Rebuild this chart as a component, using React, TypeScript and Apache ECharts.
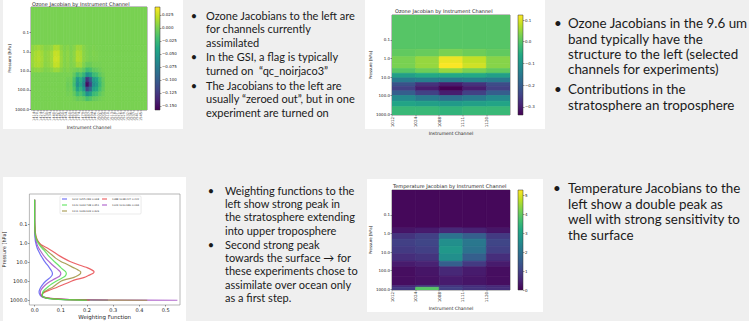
import React, { useEffect, useRef } from "react";
import * as echarts from "echarts";

const VIRIDIS = ["#440154", "#482475", "#414487", "#355f8d", "#2a788e", "#21918c", "#22a884", "#44bf70", "#7ad151", "#bddf26", "#fde725"];

// ---------- Panel 1: ozone Jacobian, assimilated channels ----------
const o3AssimChannels = ["1409", "1414", "1420", "1424", "1427", "1430", "1434", "1440", "1442", "1445", "1450", "1454", "1460", "1463", "1469", "1474", "1479", "1483", "1487", "1494", "1496", "1502", "1505", "1509", "1510", "1513", "1518", "1521", "1526", "1529", "1532", "1536", "1537", "1541", "1545", "1548"];
const o3AssimEdgesHPa = [0.0045, 0.45, 0.9, 1.8, 3.5, 7, 12.5, 22, 40, 70, 125, 225, 400, 1122];
// Jacobian values in units of 1e-3
const o3AssimMilli = [
  [0, 0, 0, 0, 0, 0, 0, 0, 0, 0, 0, 0, 0, 0, 0, 0, 0, 0, 0, 0, 0, 0, 0, 0, 0, 0, 0, 0, 0, 0, 0, 0, 0, 0, 0, 0],
  [6, 9, 11, 8, 4, 5, 7, 15, 15, 6, 2, 4, 1, 4, 11, 10, 4, 1, 0, 1, 0, 0, 0, 0, 0, 0, 0, 0, 0, 0, 0, 0, 0, 0, 0, 0],
  [9, 14, 16, 12, 6, 8, 12, 23, 22, 9, 3, 6, 2, 6, 16, 14, 5, 2, 0, 2, 1, 0, 0, 0, 0, 0, 0, 0, 0, 0, 0, 0, 0, 0, 0, 0],
  [10, 15, 17, 13, 6, 8, 12, 25, 24, 10, 3, 6, 2, 6, 17, 15, 5, 2, 0, 1, 1, 0, 0, 0, 0, 0, 0, 0, 0, 0, 0, 0, 0, 0, 0, 0],
  [9, 14, 15, 12, 5, 7, 11, 22, 21, 9, 3, 5, 2, 4, 12, 11, 2, -5, -5, -1, -1, -1, 0, 0, 0, 0, 0, 0, 0, 0, 0, 0, 0, 0, 0, 0],
  [4, 6, 7, 5, 2, 3, 5, 10, 10, 4, 1, 3, 1, -1, -4, -2, -9, -22, -18, -9, -7, -4, -1, 0, 0, 0, 0, 0, 0, 0, 0, 0, 0, 0, 0, 0],
  [0, 0, 0, 0, 0, 0, 0, 0, 0, 0, 0, 0, 0, -8, -24, -16, -28, -60, -48, -24, -20, -10, -4, 0, 0, 0, 0, 0, 0, 0, 0, 0, 0, 0, 0, 0],
  [0, 0, 0, 0, 0, 0, 0, 0, 0, 0, 0, -3, -2, -17, -51, -34, -60, -128, -102, -51, -43, -21, -8, 0, 0, 0, 0, 0, 0, 0, 0, 0, 0, 0, 0, 0],
  [0, 0, 0, 0, 0, 0, 0, 0, 0, 0, 0, -5, -3, -20, -60, -40, -70, -150, -120, -60, -50, -25, -10, 0, 0, 0, 0, 0, 0, 0, 0, 0, 0, 0, 0, 0],
  [0, 0, 0, 0, 0, 0, 0, 0, 0, 0, 0, -4, -2, -15, -45, -30, -52, -112, -90, -45, -38, -19, -8, 0, 0, 0, 0, 0, 0, 0, 0, 0, 0, 0, 0, 0],
  [0, 0, 0, 0, 0, 0, 0, 0, 0, 0, 0, -2, -1, -8, -24, -16, -28, -60, -48, -24, -20, -10, -4, 0, 0, 0, 0, 0, 0, 0, 0, 0, 0, 0, 0, 0],
  [0, 0, 0, 0, 0, 0, 0, 0, 0, 0, 0, 0, 0, -2, -7, -5, -8, -18, -14, -7, -6, -3, -1, 0, 0, 0, 0, 0, 0, 0, 0, 0, 0, 0, 0, 0],
  [0, 0, 0, 0, 0, 0, 0, 0, 0, 0, 0, 0, 0, 0, 0, 0, 0, 0, 0, 0, 0, 0, 0, 0, 0, 0, 0, 0, 0, 0, 0, 0, 0, 0, 0, 0],
];
const o3AssimTicks = [-0.15, -0.125, -0.1, -0.075, -0.05, -0.025, 0, 0.025];
const o3AssimRange = [-0.158, 0.04];

// ---------- Panel 2: ozone Jacobian, experiment channels ----------
const expChannels = ["1012", "1024", "1088", "1111", "1120"];
const o3ExpEdgesHPa = [0.0045, 0.32, 0.8, 1.8, 3.5, 6.3, 11.2, 20, 32, 56, 100, 200, 400, 1122];
const o3ExpJacobian = [
  [0, 0, 0, 0, 0],
  [0.01, 0.015, 0.03, 0.02, 0.01],
  [0.03, 0.05, 0.11, 0.08, 0.04],
  [0.03, 0.05, 0.12, 0.09, 0.04],
  [0.0, 0.02, 0.05, 0.03, 0.01],
  [-0.08, -0.06, -0.06, -0.06, -0.08],
  [-0.15, -0.14, -0.15, -0.14, -0.15],
  [-0.22, -0.27, -0.3, -0.27, -0.23],
  [-0.25, -0.3, -0.337, -0.3, -0.25],
  [-0.2, -0.25, -0.3, -0.25, -0.2],
  [-0.12, -0.15, -0.17, -0.15, -0.12],
  [-0.07, -0.08, -0.09, -0.08, -0.07],
  [-0.03, -0.03, -0.04, -0.03, -0.03],
];
const o3ExpTicks = [-0.3, -0.2, -0.1, 0, 0.1];
const o3ExpRange = [-0.337, 0.123];

// ---------- Panel 3: temperature Jacobian ----------
const tEdgesHPa = [0.0045, 0.5, 1, 2, 5, 12.6, 31.6, 63, 200, 631, 794, 1122];
const tJacobian = [
  [0.1, 0.1, 0.1, 0.1, 0.1],
  [0.3, 0.4, 0.6, 0.5, 0.3],
  [0.8, 1.0, 2.0, 1.6, 0.9],
  [1.0, 1.1, 2.6, 2.1, 1.1],
  [0.9, 1.0, 2.8, 2.0, 1.0],
  [0.7, 0.8, 2.6, 1.6, 0.7],
  [0.4, 0.5, 1.6, 0.9, 0.4],
  [0.2, 0.3, 0.6, 0.4, 0.2],
  [0.2, 0.25, 0.4, 0.3, 0.2],
  [0.6, 0.8, 0.8, 0.7, 0.6],
  [0.9, 3.9, 1.0, 0.8, 0.7],
];
const tTicks = [0, 1, 2, 3, 4, 5];
const tRange = [0, 5.3];

// ---------- Weighting functions ----------
const wfPressureHPa = [0.005, 0.05, 0.2, 0.4, 0.6, 0.8, 1.2, 1.8, 2.7, 4, 6, 9, 13, 19, 25, 31, 39, 50, 62, 80, 100, 140, 200, 280, 350, 450, 560, 680, 800, 900, 960, 1000];
const wfNames = ["1012 1055.283 0.068", "1024 1010.680 0.094", "1088 1038.227 0.222", "1111 1039.633 0.409", "1120 1043.738 0.451"];
const wf1012 = [0, 0, 0, 0.001, 0.002, 0.003, 0.006, 0.01, 0.016, 0.022, 0.03, 0.038, 0.047, 0.056, 0.062, 0.066, 0.068, 0.066, 0.06, 0.05, 0.042, 0.032, 0.024, 0.019, 0.017, 0.018, 0.022, 0.03, 0.05, 0.1, 0.18, 0.28];
const wf1024 = [0, 0, 0.001, 0.002, 0.004, 0.006, 0.01, 0.016, 0.024, 0.032, 0.042, 0.054, 0.066, 0.08, 0.09, 0.097, 0.1, 0.097, 0.088, 0.072, 0.06, 0.045, 0.033, 0.025, 0.022, 0.022, 0.026, 0.035, 0.06, 0.13, 0.28, 0.545];
const wf1088 = [0, 0, 0.002, 0.005, 0.009, 0.014, 0.025, 0.05, 0.07, 0.088, 0.11, 0.135, 0.165, 0.2, 0.218, 0.227, 0.222, 0.205, 0.19, 0.16, 0.14, 0.115, 0.088, 0.06, 0.042, 0.03, 0.028, 0.035, 0.06, 0.11, 0.17, 0.21];
const wf1111 = [0, 0, 0.001, 0.004, 0.008, 0.013, 0.022, 0.035, 0.05, 0.065, 0.08, 0.1, 0.125, 0.148, 0.165, 0.176, 0.175, 0.165, 0.15, 0.12, 0.1, 0.085, 0.07, 0.05, 0.038, 0.03, 0.028, 0.033, 0.05, 0.1, 0.2, 0.43];
const wf1120 = [0, 0, 0.001, 0.003, 0.006, 0.01, 0.018, 0.028, 0.04, 0.05, 0.062, 0.075, 0.088, 0.1, 0.11, 0.118, 0.121, 0.118, 0.11, 0.095, 0.082, 0.065, 0.05, 0.038, 0.032, 0.03, 0.03, 0.035, 0.05, 0.09, 0.15, 0.2];
const wfColors = ["#5a5af2", "#a24cc4", "#e8484c", "#9c8f3c", "#4fe04f"];
const wfTicks = [0, 0.1, 0.2, 0.3, 0.4, 0.5];
const pressureTicksHPa = [0.1, 1, 10, 100, 1000];

// ---------- slide notes ----------
const notesTopLeft = [
  { t: "Ozone Jacobians to the left are", b: true, y: 15 },
  { t: "for channels currently", y: 28.5 },
  { t: "assimilated", y: 42.5 },
  { t: "In the GSI, a flag is typically", b: true, y: 56 },
  { t: "turned on  \u201cqc_noirjaco3\u201d", y: 70 },
  { t: "The Jacobians to the left are", b: true, y: 85 },
  { t: "usually \u201czeroed out\u201d, but in one", y: 98.5 },
  { t: "experiment are turned on", y: 112.5 },
];
const notesTopRight = [
  { t: "Ozone Jacobians in the 9.6 um", b: true, y: 23 },
  { t: "band typically have the", y: 39 },
  { t: "structure to the left (selected", y: 54 },
  { t: "channels for experiments)", y: 68.5 },
  { t: "Contributions in the", b: true, y: 89 },
  { t: "stratosphere an troposphere", y: 105 },
];
const notesBottomLeft = [
  { t: "Weighting functions to the", b: true, y: 190 },
  { t: "left show strong peak in", y: 203.3 },
  { t: "the stratosphere extending", y: 216.7 },
  { t: "into upper troposphere", y: 230 },
  { t: "Second strong peak", b: true, y: 244 },
  { t: "towards the surface \u2192 for", y: 257.3 },
  { t: "these experiments chose to", y: 270.7 },
  { t: "assimilate over ocean only", y: 284 },
  { t: "as a first step.", y: 297.3 },
];
const notesBottomRight = [
  { t: "Temperature Jacobians to the", b: true, y: 188 },
  { t: "left show a double peak as", y: 204 },
  { t: "well with strong sensitivity to", y: 219 },
  { t: "the surface", y: 235 },
];

const SLIDE_FONT = "Lato, 'Liberation Sans', sans-serif";
const PLOT_FONT = "'DejaVu Sans', sans-serif";
const INK = "#222";
const lg = (p: number) => Math.log10(p);

function cells(edges: number[], rows: number[][], scale = 1) {
  const out: number[][] = [];
  rows.forEach((row, r) => row.forEach((v, c) => out.push([c, c + 1, lg(edges[r]), lg(edges[r + 1]), v * scale])));
  return out;
}

const renderCell = (_p: any, api: any) => {
  const a = api.coord([api.value(0), api.value(2)]);
  const b = api.coord([api.value(1), api.value(3)]);
  const c = api.visual("color");
  return {
    type: "rect",
    shape: {
      x: Math.min(a[0], b[0]),
      y: Math.min(a[1], b[1]),
      width: Math.abs(b[0] - a[0]),
      height: Math.abs(b[1] - a[1]),
    },
    style: { fill: c, stroke: c, lineWidth: 0.7 },
  };
};

const minus = (s: string) => s.replace("-", "\u2212");

function pressureAxis(gridIndex: number, minHPa: number, maxHPa: number, fontSize: number, nameGap: number) {
  const ticks = pressureTicksHPa.map(lg);
  return {
    gridIndex,
    type: "value",
    min: lg(minHPa),
    max: lg(maxHPa),
    inverse: true,
    name: "Pressure [hPa]",
    nameLocation: "middle",
    nameGap,
    nameTextStyle: { fontSize: fontSize, color: INK, fontFamily: PLOT_FONT },
    axisLine: { show: false, onZero: false },
    axisTick: { show: true, length: 1.5, lineStyle: { color: "#333", width: 0.5 }, customValues: ticks },
    axisLabel: { fontSize, color: INK, margin: 2, fontFamily: PLOT_FONT, customValues: ticks, formatter: (v: number) => Math.pow(10, v).toFixed(1) },
    splitLine: { show: false },
  };
}

function channelAxis(gridIndex: number, names: string[], fontSize: number, nameGap: number, labelColor: string) {
  const idx = names.map((_n, i) => i);
  return {
    gridIndex,
    type: "value",
    position: "bottom",
    min: 0,
    max: names.length,
    name: "Instrument Channel",
    nameLocation: "middle",
    nameGap,
    nameTextStyle: { fontSize: 4.5, color: INK, fontFamily: PLOT_FONT },
    axisLine: { show: false, onZero: false },
    axisTick: { show: true, length: 1.5, lineStyle: { color: "#333", width: 0.4 }, customValues: idx },
    axisLabel: { fontSize, rotate: 90, color: labelColor, margin: 2, fontFamily: PLOT_FONT, customValues: idx, formatter: (v: number) => names[Math.round(v)] ?? "" },
    splitLine: { show: false },
  };
}

function colorbarAxes(gridIndex: number, range: number[], ticks: number[], fmt: (v: number) => string) {
  return {
    x: { gridIndex, type: "value", show: false, min: 0, max: 1 },
    y: {
      gridIndex,
      type: "value",
      position: "right",
      min: range[0],
      max: range[1],
      axisLine: { show: false, onZero: false },
      axisTick: { show: true, length: 1.5, lineStyle: { color: "#333", width: 0.5 }, customValues: ticks },
      axisLabel: { fontSize: 4, color: INK, margin: 2, fontFamily: PLOT_FONT, customValues: ticks, formatter: fmt },
      splitLine: { show: false },
    },
  };
}

const cbGradient = {
  type: "linear",
  x: 0,
  y: 0,
  x2: 0,
  y2: 1,
  colorStops: VIRIDIS.slice().reverse().map((c, i, a) => ({ offset: i / (a.length - 1), color: c })),
};

function notes(lines: { t: string; b?: boolean; y: number }[], bulletX: number, textX: number, fontSize: number) {
  const els: any[] = [];
  lines.forEach((l) => {
    if (l.b) {
      els.push({ type: "text", x: bulletX, y: l.y, z: 5, style: { text: "\u2022", fontSize, fontFamily: SLIDE_FONT, fill: "#1a1a1a", align: "center", verticalAlign: "middle" } });
    }
    els.push({ type: "text", x: textX, y: l.y, z: 5, style: { text: l.t, fontSize, fontFamily: SLIDE_FONT, fill: "#1a1a1a", align: "left", verticalAlign: "middle" } });
  });
  return els;
}

function panel(x: number, y: number, w: number, h: number) {
  return { type: "rect", z: -10, silent: true, shape: { x, y, width: w, height: h }, style: { fill: "#ffffff" } };
}

function title(text: string, x: number, y: number) {
  return { type: "text", x, y, z: 5, style: { text, fontSize: 5, fontFamily: PLOT_FONT, fill: INK, align: "left", verticalAlign: "middle" } };
}

export default function App() {
  const ref = useRef<HTMLDivElement>(null);
  useEffect(() => {
    const chart = echarts.init(ref.current!, null, { renderer: "svg" });
    const cb1 = colorbarAxes(1, o3AssimRange, o3AssimTicks, (v) => minus(Number(v).toFixed(3)));
    const cb2 = colorbarAxes(3, o3ExpRange, o3ExpTicks, (v) => minus(Number(v).toFixed(1)));
    const cb3 = colorbarAxes(6, tRange, tTicks, (v) => String(Math.round(v)));
    const frame = { show: true, borderColor: "#333", borderWidth: 0.6, backgroundColor: "transparent" };
    const cbFrame = { show: true, borderColor: "#333", borderWidth: 0.5, backgroundColor: cbGradient };
    const option: any = {
      animation: false,
      backgroundColor: "#efefef",
      textStyle: { fontFamily: PLOT_FONT },
      grid: [
        { left: 31, top: 7, width: 116, height: 103, ...frame },
        { left: 155, top: 7, width: 5, height: 103, ...cbFrame },
        { left: 392, top: 15, width: 118, height: 100, ...frame },
        { left: 518, top: 15, width: 5, height: 100, ...cbFrame },
        { left: 27, top: 194, width: 153, height: 114, show: true, borderColor: "#888", borderWidth: 0.6, backgroundColor: "transparent" },
        { left: 392, top: 190, width: 118, height: 100, ...frame },
        { left: 518, top: 190, width: 5, height: 100, ...cbFrame },
      ],
      xAxis: [
        channelAxis(0, o3AssimChannels, 3.5, 11, "#555"),
        cb1.x,
        channelAxis(2, expChannels, 4, 15, INK),
        cb2.x,
        {
          gridIndex: 4,
          type: "value",
          position: "bottom",
          min: -0.02,
          max: 0.555,
          name: "Weighting Function",
          nameLocation: "middle",
          nameGap: 9,
          nameTextStyle: { fontSize: 5.5, color: INK },
          axisLine: { show: false, onZero: false },
          axisTick: { show: true, length: 1.5, lineStyle: { color: "#333", width: 0.5 }, customValues: wfTicks },
          axisLabel: { fontSize: 5, color: INK, margin: 2.5, customValues: wfTicks, formatter: (v: number) => Number(v).toFixed(1) },
          splitLine: { show: false },
        },
        channelAxis(5, expChannels, 4, 16, INK),
        cb3.x,
      ],
      yAxis: [
        pressureAxis(0, 0.0045, 1122, 4, 19),
        cb1.y,
        pressureAxis(2, 0.0045, 1122, 4, 18),
        cb2.y,
        pressureAxis(4, 0.0025, 1780, 5, 21),
        pressureAxis(5, 0.0045, 1122, 4, 18),
        cb3.y,
      ],
      visualMap: [
        { type: "continuous", show: false, seriesIndex: 0, dimension: 4, min: o3AssimRange[0], max: o3AssimRange[1], inRange: { color: VIRIDIS } },
        { type: "continuous", show: false, seriesIndex: 1, dimension: 4, min: o3ExpRange[0], max: o3ExpRange[1], inRange: { color: VIRIDIS } },
        { type: "continuous", show: false, seriesIndex: 2, dimension: 4, min: tRange[0], max: tRange[1], inRange: { color: VIRIDIS } },
      ],
      legend: {
        left: 60,
        top: 196,
        width: 110,
        itemWidth: 5,
        itemHeight: 1,
        itemGap: 3,
        icon: "rect",
        padding: [1.5, 2],
        backgroundColor: "#fff",
        borderColor: "#ccc",
        borderWidth: 0.4,
        borderRadius: 1,
        textStyle: { fontSize: 2.5, color: "#333" },
        data: [wfNames[0], wfNames[2], wfNames[4], wfNames[1], wfNames[3]],
      },
      series: [
        { type: "custom", xAxisIndex: 0, yAxisIndex: 0, renderItem: renderCell, data: cells(o3AssimEdgesHPa, o3AssimMilli, 1e-3), encode: { x: [0, 1], y: [2, 3] }, clip: true, silent: true },
        { type: "custom", xAxisIndex: 2, yAxisIndex: 2, renderItem: renderCell, data: cells(o3ExpEdgesHPa, o3ExpJacobian), encode: { x: [0, 1], y: [2, 3] }, clip: true, silent: true },
        { type: "custom", xAxisIndex: 5, yAxisIndex: 5, renderItem: renderCell, data: cells(tEdgesHPa, tJacobian), encode: { x: [0, 1], y: [2, 3] }, clip: true, silent: true },
        ...[wf1012, wf1024, wf1088, wf1111, wf1120].map((vals, k) => ({
          type: "line",
          name: wfNames[k],
          xAxisIndex: 4,
          yAxisIndex: 4,
          data: wfPressureHPa.map((p, i) => [vals[i], lg(p)]),
          showSymbol: false,
          smooth: 0.2,
          color: wfColors[k],
          lineStyle: { width: 1.2, color: wfColors[k], opacity: 0.85 },
          silent: true,
        })),
      ],
      graphic: {
        elements: [
          panel(3, 0, 180, 129),
          panel(365, 0, 180, 129),
          panel(3, 177, 183, 144),
          panel(367, 179, 176, 133),
          title("Ozone Jacobian by Instrument Channel", 32, 3.5),
          title("Ozone Jacobian by Instrument Channel", 395, 10.5),
          title("Temperature Jacobian by Instrument Channel", 393, 186),
          ...notes(notesTopLeft, 194, 206, 11),
          ...notes(notesTopRight, 558, 568, 13.4),
          ...notes(notesBottomLeft, 211, 225, 11),
          ...notes(notesBottomRight, 557, 568, 13.4),
        ],
      },
    };
    chart.setOption(option);
    return () => chart.dispose();
  }, []);
  return <div ref={ref} style={{ position: "fixed", left: 0, top: 0, width: 749, height: 321 }} />;
}
